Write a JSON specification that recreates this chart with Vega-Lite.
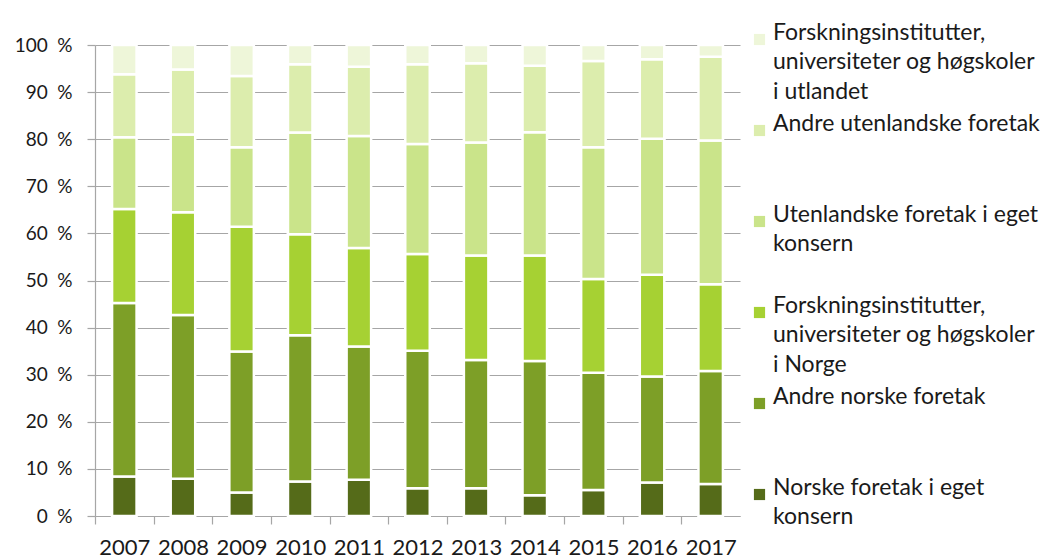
{
  "$schema": "https://vega.github.io/schema/vega-lite/v6.json",
  "width": 645,
  "height": 471,
  "autosize": "none",
  "padding": {"left": 95, "top": 45, "right": 301, "bottom": 43},
  "background": "white",
  "config": {"font": "Lato", "view": {"stroke": null}, "style": {"guide-label": {"lineHeight": 29.6}}},
  "data": {
    "values": [
      {"år": "2007", "kilde": "Norske foretak i eget konsern", "n": 1, "andel": 8.4},
      {"år": "2007", "kilde": "Andre norske foretak", "n": 2, "andel": 36.8},
      {"år": "2007", "kilde": "Forskningsinstitutter, universiteter og høgskoler i Norge", "n": 3, "andel": 20.0},
      {"år": "2007", "kilde": "Utenlandske foretak i eget konsern", "n": 4, "andel": 15.2},
      {"år": "2007", "kilde": "Andre utenlandske foretak", "n": 5, "andel": 13.4},
      {"år": "2007", "kilde": "Forskningsinstitutter, universiteter og høgskoler i utlandet", "n": 6, "andel": 6.2},
      {"år": "2008", "kilde": "Norske foretak i eget konsern", "n": 1, "andel": 7.9},
      {"år": "2008", "kilde": "Andre norske foretak", "n": 2, "andel": 34.8},
      {"år": "2008", "kilde": "Forskningsinstitutter, universiteter og høgskoler i Norge", "n": 3, "andel": 21.8},
      {"år": "2008", "kilde": "Utenlandske foretak i eget konsern", "n": 4, "andel": 16.5},
      {"år": "2008", "kilde": "Andre utenlandske foretak", "n": 5, "andel": 13.8},
      {"år": "2008", "kilde": "Forskningsinstitutter, universiteter og høgskoler i utlandet", "n": 6, "andel": 5.2},
      {"år": "2009", "kilde": "Norske foretak i eget konsern", "n": 1, "andel": 5.0},
      {"år": "2009", "kilde": "Andre norske foretak", "n": 2, "andel": 29.9},
      {"år": "2009", "kilde": "Forskningsinstitutter, universiteter og høgskoler i Norge", "n": 3, "andel": 26.5},
      {"år": "2009", "kilde": "Utenlandske foretak i eget konsern", "n": 4, "andel": 16.9},
      {"år": "2009", "kilde": "Andre utenlandske foretak", "n": 5, "andel": 15.1},
      {"år": "2009", "kilde": "Forskningsinstitutter, universiteter og høgskoler i utlandet", "n": 6, "andel": 6.6},
      {"år": "2010", "kilde": "Norske foretak i eget konsern", "n": 1, "andel": 7.3},
      {"år": "2010", "kilde": "Andre norske foretak", "n": 2, "andel": 31.1},
      {"år": "2010", "kilde": "Forskningsinstitutter, universiteter og høgskoler i Norge", "n": 3, "andel": 21.4},
      {"år": "2010", "kilde": "Utenlandske foretak i eget konsern", "n": 4, "andel": 21.6},
      {"år": "2010", "kilde": "Andre utenlandske foretak", "n": 5, "andel": 14.5},
      {"år": "2010", "kilde": "Forskningsinstitutter, universiteter og høgskoler i utlandet", "n": 6, "andel": 4.1},
      {"år": "2011", "kilde": "Norske foretak i eget konsern", "n": 1, "andel": 7.7},
      {"år": "2011", "kilde": "Andre norske foretak", "n": 2, "andel": 28.3},
      {"år": "2011", "kilde": "Forskningsinstitutter, universiteter og høgskoler i Norge", "n": 3, "andel": 20.9},
      {"år": "2011", "kilde": "Utenlandske foretak i eget konsern", "n": 4, "andel": 23.8},
      {"år": "2011", "kilde": "Andre utenlandske foretak", "n": 5, "andel": 14.7},
      {"år": "2011", "kilde": "Forskningsinstitutter, universiteter og høgskoler i utlandet", "n": 6, "andel": 4.6},
      {"år": "2012", "kilde": "Norske foretak i eget konsern", "n": 1, "andel": 5.9},
      {"år": "2012", "kilde": "Andre norske foretak", "n": 2, "andel": 29.2},
      {"år": "2012", "kilde": "Forskningsinstitutter, universiteter og høgskoler i Norge", "n": 3, "andel": 20.5},
      {"år": "2012", "kilde": "Utenlandske foretak i eget konsern", "n": 4, "andel": 23.4},
      {"år": "2012", "kilde": "Andre utenlandske foretak", "n": 5, "andel": 16.9},
      {"år": "2012", "kilde": "Forskningsinstitutter, universiteter og høgskoler i utlandet", "n": 6, "andel": 4.1},
      {"år": "2013", "kilde": "Norske foretak i eget konsern", "n": 1, "andel": 5.9},
      {"år": "2013", "kilde": "Andre norske foretak", "n": 2, "andel": 27.2},
      {"år": "2013", "kilde": "Forskningsinstitutter, universiteter og høgskoler i Norge", "n": 3, "andel": 22.2},
      {"år": "2013", "kilde": "Utenlandske foretak i eget konsern", "n": 4, "andel": 24.0},
      {"år": "2013", "kilde": "Andre utenlandske foretak", "n": 5, "andel": 16.8},
      {"år": "2013", "kilde": "Forskningsinstitutter, universiteter og høgskoler i utlandet", "n": 6, "andel": 3.9},
      {"år": "2014", "kilde": "Norske foretak i eget konsern", "n": 1, "andel": 4.4},
      {"år": "2014", "kilde": "Andre norske foretak", "n": 2, "andel": 28.5},
      {"år": "2014", "kilde": "Forskningsinstitutter, universiteter og høgskoler i Norge", "n": 3, "andel": 22.4},
      {"år": "2014", "kilde": "Utenlandske foretak i eget konsern", "n": 4, "andel": 26.2},
      {"år": "2014", "kilde": "Andre utenlandske foretak", "n": 5, "andel": 14.1},
      {"år": "2014", "kilde": "Forskningsinstitutter, universiteter og høgskoler i utlandet", "n": 6, "andel": 4.4},
      {"år": "2015", "kilde": "Norske foretak i eget konsern", "n": 1, "andel": 5.5},
      {"år": "2015", "kilde": "Andre norske foretak", "n": 2, "andel": 24.9},
      {"år": "2015", "kilde": "Forskningsinstitutter, universiteter og høgskoler i Norge", "n": 3, "andel": 19.9},
      {"år": "2015", "kilde": "Utenlandske foretak i eget konsern", "n": 4, "andel": 28.0},
      {"år": "2015", "kilde": "Andre utenlandske foretak", "n": 5, "andel": 18.3},
      {"år": "2015", "kilde": "Forskningsinstitutter, universiteter og høgskoler i utlandet", "n": 6, "andel": 3.4},
      {"år": "2016", "kilde": "Norske foretak i eget konsern", "n": 1, "andel": 7.1},
      {"år": "2016", "kilde": "Andre norske foretak", "n": 2, "andel": 22.5},
      {"år": "2016", "kilde": "Forskningsinstitutter, universiteter og høgskoler i Norge", "n": 3, "andel": 21.6},
      {"år": "2016", "kilde": "Utenlandske foretak i eget konsern", "n": 4, "andel": 28.9},
      {"år": "2016", "kilde": "Andre utenlandske foretak", "n": 5, "andel": 16.9},
      {"år": "2016", "kilde": "Forskningsinstitutter, universiteter og høgskoler i utlandet", "n": 6, "andel": 3.0},
      {"år": "2017", "kilde": "Norske foretak i eget konsern", "n": 1, "andel": 6.8},
      {"år": "2017", "kilde": "Andre norske foretak", "n": 2, "andel": 24.0},
      {"år": "2017", "kilde": "Forskningsinstitutter, universiteter og høgskoler i Norge", "n": 3, "andel": 18.4},
      {"år": "2017", "kilde": "Utenlandske foretak i eget konsern", "n": 4, "andel": 30.5},
      {"år": "2017", "kilde": "Andre utenlandske foretak", "n": 5, "andel": 17.8},
      {"år": "2017", "kilde": "Forskningsinstitutter, universiteter og høgskoler i utlandet", "n": 6, "andel": 2.5}
    ]
  },
  "mark": {"type": "bar", "width": {"band": 0.418}, "stroke": "white", "strokeWidth": 2.5},
  "encoding": {
    "x": {
      "field": "år",
      "type": "ordinal",
      "scale": {"paddingInner": 0, "paddingOuter": 0},
      "axis": {
        "title": null,
        "labelAngle": 0,
        "labelFontSize": 22,
        "labelColor": "#1a1a1a",
        "labelPadding": 13,
        "tickOffset": -29.32,
        "labelOffset": 29.32,
        "tickSize": 8,
        "tickColor": "#a6a6a6",
        "tickWidth": 1.2,
        "domainColor": "#a6a6a6",
        "domainWidth": 1.2,
        "grid": false
      }
    },
    "y": {
      "field": "andel",
      "type": "quantitative",
      "stack": "normalize",
      "scale": {"domain": [0, 1], "nice": false},
      "axis": {
        "title": null,
        "values": [0, 0.1, 0.2, 0.3, 0.4, 0.5, 0.6, 0.7, 0.8, 0.9, 1],
        "labelExpr": "format(datum.value * 100, 'd') + '\u2002%'",
        "labelFontSize": 19,
        "labelColor": "#1a1a1a",
        "labelPadding": 15,
        "tickSize": 8,
        "tickColor": "#a6a6a6",
        "tickWidth": 1.2,
        "domainColor": "#a6a6a6",
        "domainWidth": 1.2,
        "grid": true,
        "gridColor": "#a6a6a6",
        "gridWidth": 1.2
      }
    },
    "color": {
      "field": "kilde",
      "type": "nominal",
      "scale": {
        "domain": [
          "Forskningsinstitutter, universiteter og høgskoler i utlandet",
          "Andre utenlandske foretak",
          "Utenlandske foretak i eget konsern",
          "Forskningsinstitutter, universiteter og høgskoler i Norge",
          "Andre norske foretak",
          "Norske foretak i eget konsern"
        ],
        "range": ["#eef6d9", "#dcedad", "#cae48a", "#a6d133", "#7d9f27", "#556b19"]
      },
      "legend": {
        "orient": "none",
        "legendX": 653,
        "legendY": -17,
        "title": null,
        "padding": 0,
        "symbolType": "square",
        "symbolSize": 125,
        "symbolStrokeWidth": 0,
        "labelFontSize": 23,
        "labelColor": "#1a1a1a",
        "labelLimit": 330,
        "labelOffset": 2,
        "labelBaseline": "alphabetic",
        "gridAlign": "all",
        "rowPadding": 8,
        "labelExpr": "datum.label == 'Forskningsinstitutter, universiteter og høgskoler i utlandet' ? ['Forskningsinstitutter,', 'universiteter og høgskoler', 'i utlandet'] : datum.label == 'Forskningsinstitutter, universiteter og høgskoler i Norge' ? ['Forskningsinstitutter,', 'universiteter og høgskoler', 'i Norge'] : datum.label == 'Utenlandske foretak i eget konsern' ? ['Utenlandske foretak i eget', 'konsern', ''] : datum.label == 'Norske foretak i eget konsern' ? ['Norske foretak i eget', 'konsern', ''] : [datum.label, '', '']",
        "encode": {"labels": {"update": {"dy": {"value": 8}, "lineHeight": {"value": 29.6}}}}
      }
    },
    "order": {"field": "n", "type": "quantitative"}
  }
}
